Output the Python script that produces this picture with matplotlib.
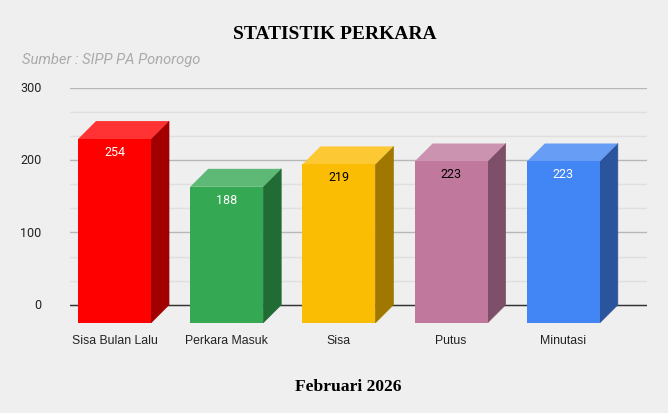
import matplotlib
matplotlib.use('Agg')
import matplotlib.pyplot as plt
from matplotlib.transforms import ScaledTranslation

categories = ['Sisa Bulan Lalu', 'Perkara Masuk', 'Sisa', 'Putus', 'Minutasi']
values = [254, 188, 219, 223, 223]
y_ticks = [0, 100, 200, 300]
y_minor = [33.33, 66.67, 133.33, 166.67, 233.33, 266.67]

front_colors = ['#ff0000', '#34a853', '#fbbc04', '#c0789d', '#4285f4']
side_colors = ['#a20000', '#216b35', '#a07800', '#7e4f68', '#2a559c']
top_colors = ['#ff3333', '#5db975', '#fcc934', '#cc93b1', '#689df6']
label_colors = ['white', 'white', 'black', 'black', 'white']

W, H = 668, 414
BG = '#efefef'

fig = plt.figure(figsize=(W / 100, H / 100), dpi=100, facecolor=BG)

# axes box in pixels
left, right, top, bottom = 70, 647, 88.8, 324.0
ax = fig.add_axes([left / W, 1 - bottom / H, (right - left) / W, (bottom - top) / H])
ax.set_facecolor(BG)

px_x = 112.2            # pixels per category
px_y = 0.7233           # pixels per unit
x0 = 114.5              # pixel centre of first front face
ax.set_xlim((left - x0) / px_x, (right - x0) / px_x)
ax.set_ylim(-(bottom - 305.8) / px_y, 300)

for s in ax.spines.values():
    s.set_visible(False)

ax.set_axisbelow(True)
ax.set_yticks(y_ticks)
ax.set_yticks(y_minor, minor=True)
ax.grid(axis='y', which='major', color='#b7b7b7', lw=1)
ax.grid(axis='y', which='minor', color='#dfdfdf', lw=1)
ax.axhline(0, color='#333333', lw=1, zorder=1)
ax.tick_params(axis='y', which='both', length=0, pad=20.5, labelsize=9, labelcolor='#222222')
# tick labels sit a bit above their gridline in the original
nudge = ScaledTranslation(0, 1.3 / 72, fig.dpi_scale_trans)
for t in ax.get_yticklabels():
    t.set_family('Roboto')
    t.set_transform(t.get_transform() + nudge)

xs = list(range(len(categories)))
ax.set_xticks(xs, categories)
ax.tick_params(axis='x', length=0, pad=8.2, labelsize=8.8, labelcolor='#222222')
for t in ax.get_xticklabels():
    t.set_family('Liberation Sans')

# fake 3d: back face sits on the axis, front face shifted down and left
bar_w = 73 / px_x
dx = 18 / px_x
dy = 18 / px_y

ax.bar(xs, values, width=bar_w, bottom=-dy, color=front_colors, zorder=3.5)
for i, v in enumerate(values):
    l = i - bar_w / 2
    r = i + bar_w / 2
    ax.fill([r, r + dx, r + dx, r], [-dy, 0, v, v - dy], color=side_colors[i], lw=0.5, zorder=3)
    ax.fill([l, r, r + dx, l + dx], [v - dy, v - dy, v, v], color=top_colors[i], lw=0, zorder=3.2)
    ax.annotate(str(v), (i, v - dy), xytext=(0, -12.2 * 0.72), textcoords='offset points',
                ha='center', va='center', color=label_colors[i], fontsize=9,
                family='Roboto', zorder=4)

fig.text(334.5 / W, 1 - 34.7 / H, 'STATISTIK PERKARA', ha='center', va='center',
         family='Liberation Serif', weight='bold', fontsize=14, color='black')
fig.text(22 / W, 1 - 60 / H, 'Sumber : SIPP PA Ponorogo', ha='left', va='center',
         family='Roboto', style='italic', fontsize=10.6, color='#aaaaaa')
fig.text(348 / W, 1 - 387 / H, 'Februari 2026', ha='center', va='center',
         family='Liberation Serif', weight='bold', fontsize=12.6, color='black')

fig.savefig('out.png', dpi=100, facecolor=BG)
